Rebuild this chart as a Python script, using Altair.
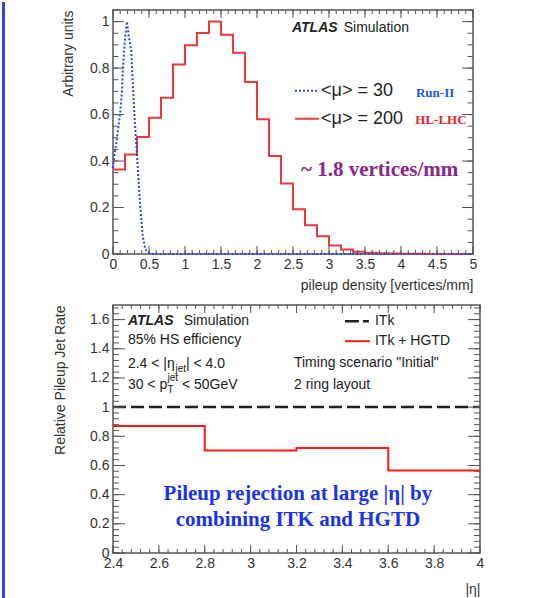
import altair as alt
import pandas as pd

# ---------------- data: top panel (pileup density) ----------------
red_edges = [0.0, 0.1667, 0.3333, 0.5, 0.6667, 0.8333, 1.0, 1.1667, 1.3333, 1.5,
             1.6667, 1.8333, 2.0, 2.1667, 2.3333, 2.5, 2.6667, 2.8333, 3.0, 3.1667,
             3.3333, 3.5, 3.6667, 3.8333, 4.0, 4.1667, 4.3333, 4.5, 4.6667, 4.8333]
red_vals = [0.364, 0.428, 0.503, 0.586, 0.672, 0.816, 0.898, 0.951, 1.0, 0.943,
            0.866, 0.740, 0.580, 0.422, 0.303, 0.193, 0.124, 0.076, 0.037, 0.019,
            0.010, 0.005, 0.003, 0.002, 0.001, 0.001, 0.0, 0.0, 0.0, 0.0]
blue_x = [0.0, 0.014, 0.056, 0.097, 0.125, 0.139, 0.171, 0.194, 0.218, 0.255, 0.273,
          0.301, 0.324, 0.356, 0.380, 0.412, 0.449, 0.495, 0.55, 5.0]
blue_y = [0.37, 0.41, 0.50, 0.60, 0.70, 0.81, 0.94, 1.0, 0.94, 0.87, 0.74,
          0.58, 0.47, 0.31, 0.20, 0.08, 0.02, 0.005, 0.0, 0.0]
top_x_major = [0, 0.5, 1, 1.5, 2, 2.5, 3, 3.5, 4, 4.5, 5]
top_x_minor = [round(i * 0.1, 2) for i in range(51)]
top_y_major = [0, 0.2, 0.4, 0.6, 0.8, 1.0]
top_y_minor = [round(i * 0.05, 2) for i in range(22)]

# ---------------- data: bottom panel (pileup jet rate) ----------------
eta_edges = [2.4, 2.8, 3.2, 3.6, 4.0]
hgtd_vals = [0.87, 0.703, 0.719, 0.566]
itk_vals = [1.0, 1.0, 1.0, 1.0]
bot_x_major = [2.4, 2.6, 2.8, 3.0, 3.2, 3.4, 3.6, 3.8, 4.0]
bot_x_minor = [round(2.4 + i * 0.04, 2) for i in range(41)]
bot_y_major = [0, 0.2, 0.4, 0.6, 0.8, 1.0, 1.2, 1.4, 1.6]
bot_y_minor = [round(i * 0.04, 2) for i in range(43)]

W1, H1 = 360, 244
W2, H2 = 367, 248
GAP = 51
SANS = "Liberation Sans"
SERIF = "Liberation Serif"
FRAME = "#555555"
TXT = "#222222"
RED_TOP = "#e83a3a"
RED_BOT = "#ff1a1a"
BLUE_DOT = "#3346e0"
BAR_BLUE = "#2b45f5"

AX = dict(grid=False, domain=False, ticks=False, tickSize=0, labelFont=SANS,
          labelFontSize=14, labelColor="#333333", labelFlush=False, labelOverlap=False,
          format="~g", titleFont=SANS, titleFontSize=14, titleFontWeight="normal",
          titleColor="#333333")

PANELS = {
    "top": dict(
        xs=alt.Scale(domain=[0, 5], nice=False, zero=False),
        ys=alt.Scale(domain=[0, 1.05], nice=False, zero=False),
        xa=alt.Axis(values=top_x_major, labelPadding=3, title="pileup density [vertices/mm]",
                    titleX=W1, titleY=31, titleAlign="right", titleBaseline="middle",
                    titleAngle=0, **AX),
        ya=alt.Axis(values=top_y_major, labelPadding=4, title="Arbitrary units",
                    titleX=-45, titleY=0, titleAngle=-90, titleAlign="right",
                    titleBaseline="middle", **AX),
        w=W1, h=H1),
    "bot": dict(
        xs=alt.Scale(domain=[2.4, 4.0], nice=False, zero=False),
        ys=alt.Scale(domain=[0, 1.7], nice=False, zero=False),
        xa=alt.Axis(values=bot_x_major, labelPadding=3, title="|η|", titleX=W2, titleY=36,
                    titleAlign="right", titleBaseline="middle", titleAngle=0, **AX),
        ya=alt.Axis(values=bot_y_major, labelPadding=4, title="Relative Pileup Jet Rate",
                    titleX=-52.5, titleY=0, titleAngle=-90, titleAlign="right",
                    titleBaseline="middle", **AX),
        w=W2, h=H2),
}


def X(p, field):
    return alt.X(field, scale=PANELS[p]["xs"], axis=PANELS[p]["xa"])


def Y(p, field):
    return alt.Y(field, scale=PANELS[p]["ys"], axis=PANELS[p]["ya"])


def ticks(p, vals, ch, length, side):
    w, h = PANELS[p]["w"], PANELS[p]["h"]
    df = pd.DataFrame({"v": vals})
    base = alt.Chart(df).mark_rule(color=FRAME, strokeWidth=1)
    if ch == "y":
        if side == "left":
            return base.encode(y=Y(p, "v:Q"), x=alt.value(0), x2=alt.value(length))
        return base.encode(y=Y(p, "v:Q"), x=alt.value(w), x2=alt.value(w - length))
    if side == "bottom":
        return base.encode(x=X(p, "v:Q"), y=alt.value(h), y2=alt.value(h - length))
    return base.encode(x=X(p, "v:Q"), y=alt.value(0), y2=alt.value(length))


def text(p, t, x, y, size=14, weight="normal", style="normal", color=TXT,
         font=SANS, align="left", dx=0, dy=0):
    df = pd.DataFrame({"x": [x], "y": [y], "t": [t]})
    return alt.Chart(df).mark_text(align=align, baseline="middle", font=font,
                                   fontSize=size, fontWeight=weight, fontStyle=style,
                                   color=color, dx=dx, dy=dy).encode(
        x=X(p, "x:Q"), y=Y(p, "y:Q"), text="t:N")


def seg(p, x1, x2, y, color, width, dash=None):
    df = pd.DataFrame({"x": [x1], "x2": [x2], "y": [y]})
    kw = dict(color=color, strokeWidth=width)
    if dash:
        kw["strokeDash"] = dash
    return alt.Chart(df).mark_rule(**kw).encode(x=X(p, "x:Q"), x2="x2:Q", y=Y(p, "y:Q"))


def bar(y1, y2):
    return alt.Chart(pd.DataFrame({"a": [0]})).mark_rule(
        color=BAR_BLUE, strokeWidth=3, strokeCap="square").encode(
        x=alt.value(-109.5), y=alt.value(y1), y2=alt.value(y2))


# ---------------- top panel ----------------
red_df = pd.DataFrame({"x": red_edges + [5.0], "y": red_vals + [red_vals[-1]]})
blue_df = pd.DataFrame({"x": blue_x, "y": blue_y})

red_top = alt.Chart(red_df).mark_line(interpolate="step-after", color=RED_TOP,
                                      strokeWidth=2).encode(x=X("top", "x:Q"), y=Y("top", "y:Q"))
blue_top = alt.Chart(blue_df).mark_line(color=BLUE_DOT, strokeWidth=2,
                                        strokeDash=[2, 2]).encode(x=X("top", "x:Q"),
                                                                  y=Y("top", "y:Q"))

top = alt.layer(
    red_top,
    bar(-6.5, H1 + GAP),
    ticks("top", top_y_major, "y", 11, "left"),
    ticks("top", top_y_minor, "y", 5.5, "left"),
    ticks("top", top_y_major, "y", 11, "right"),
    ticks("top", top_y_minor, "y", 5.5, "right"),
    ticks("top", top_x_major, "x", 8, "bottom"),
    ticks("top", top_x_minor, "x", 4, "bottom"),
    ticks("top", top_x_major, "x", 8, "top"),
    ticks("top", top_x_minor, "x", 4, "top"),
    blue_top,
    text("top", "ATLAS", 2.486, 0.974, weight="bold", style="italic"),
    text("top", "Simulation", 3.204, 0.974),
    seg("top", 2.528, 2.861, 0.703, BLUE_DOT, 2, [2, 2]),
    text("top", "<μ> = 30", 2.889, 0.703, size=18),
    text("top", "Run-II", 4.208, 0.694, size=13, weight="bold", font=SERIF, color="#2255ee"),
    seg("top", 2.528, 2.861, 0.582, RED_TOP, 2),
    text("top", "<μ> = 200", 2.889, 0.582, size=18),
    text("top", "HL-LHC", 4.199, 0.578, size=13, weight="bold", font=SERIF, color="#ee2222"),
    text("top", "~ 1.8 vertices/mm", 2.611, 0.362, size=21, weight="bold",
         font=SERIF, color="#8c268c"),
).properties(width=W1, height=H1)

# ---------------- bottom panel ----------------
hgtd_df = pd.DataFrame({"x": eta_edges, "y": hgtd_vals + [hgtd_vals[-1]]})
itk_df = pd.DataFrame({"x": eta_edges, "y": itk_vals + [itk_vals[-1]]})

itk_line = alt.Chart(itk_df).mark_line(interpolate="step-after", color="#222222",
                                       strokeWidth=2.5, strokeDash=[13, 5]).encode(
    x=X("bot", "x:Q"), y=Y("bot", "y:Q"))
hgtd_line = alt.Chart(hgtd_df).mark_line(interpolate="step-after", color=RED_BOT,
                                         strokeWidth=2).encode(x=X("bot", "x:Q"),
                                                               y=Y("bot", "y:Q"))

ETA_Y = 1.295
PT_Y = 1.151
X0 = 2.465
bottom = alt.layer(
    itk_line,
    bar(0, 295),
    ticks("bot", bot_y_major, "y", 12, "left"),
    ticks("bot", bot_y_minor, "y", 6, "left"),
    ticks("bot", bot_y_major, "y", 12, "right"),
    ticks("bot", bot_y_minor, "y", 6, "right"),
    ticks("bot", bot_x_major, "x", 8, "bottom"),
    ticks("bot", bot_x_minor, "x", 4, "bottom"),
    ticks("bot", bot_x_major, "x", 8, "top"),
    ticks("bot", bot_x_minor, "x", 4, "top"),
    hgtd_line,
    text("bot", "ATLAS", X0, 1.589, weight="bold", style="italic"),
    text("bot", "Simulation", 2.708, 1.589),
    text("bot", "85% HS efficiency", X0, 1.459),
    text("bot", "2.4 < |η", X0, ETA_Y),
    text("bot", "jet", X0, ETA_Y, size=10, dx=47.5, dy=5),
    text("bot", "| < 4.0", X0, ETA_Y, dx=58),
    text("bot", "30 < p", X0, PT_Y),
    text("bot", "T", X0, PT_Y, size=10, dx=39.5, dy=5),
    text("bot", "jet", X0, PT_Y, size=10, dx=39.5, dy=-7),
    text("bot", "< 50GeV", X0, PT_Y, dx=54),
    seg("bot", 3.411, 3.520, 1.589, "#222222", 2.5, [14, 4, 6, 4]),
    text("bot", "ITk", 3.542, 1.589),
    seg("bot", 3.411, 3.520, 1.452, RED_BOT, 2),
    text("bot", "ITk + HGTD", 3.542, 1.452),
    text("bot", 'Timing scenario "Initial"', 3.189, 1.301),
    text("bot", "2 ring layout", 3.189, 1.151),
    text("bot", "Pileup rejection at large |η| by", 3.206, 0.404, size=21,
         weight="bold", font=SERIF, color="#1a33f0", align="center"),
    text("bot", "combining ITK and HGTD", 3.206, 0.226, size=21,
         weight="bold", font=SERIF, color="#1a33f0", align="center"),
).properties(width=W2, height=H2)

chart = alt.vconcat(top, bottom, spacing=GAP, bounds="flush").properties(
    padding=0, background="white"
).configure_view(stroke=FRAME, strokeWidth=1.5)

chart.save("out.html", embed_options={"renderer": "svg", "actions": False})
